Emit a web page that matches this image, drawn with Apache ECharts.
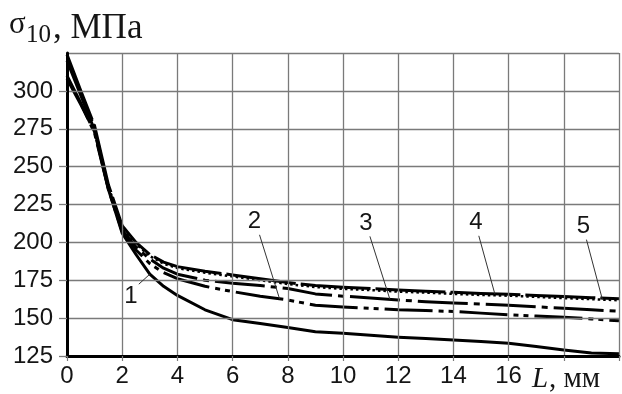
<!DOCTYPE html>
<html>
<head>
<meta charset="utf-8">
<script src="https://cdn.jsdelivr.net/npm/echarts@6/dist/echarts.min.js"></script>
<style>
  html, body { margin: 0; padding: 0; background: #fff; }
  #main { width: 622px; height: 394px; }
</style>
</head>
<body>
<div id="main"></div>
<script>
// Distance from the notch, L (mm)
const lengthMm = [0, 0.5, 1, 1.5, 2, 2.5, 3, 3.5, 4, 5, 6, 7, 8, 9, 10, 11, 12, 13, 14, 15, 16, 17, 18, 19, 20];

// Stress sigma_10 (MPa) for curves 1..5
const curve1 = [320, 297, 274, 235, 206, 192, 179, 171, 165, 155.5, 149, 146.5, 143.8, 141, 140, 138.7, 137.4, 136.5, 135.6, 134.5, 133.4, 131.2, 129, 127, 126.5];
const curve2 = [310, 292, 272, 235, 207, 195, 186, 180, 176, 171, 167.5, 164.5, 162, 158.5, 157.3, 156.5, 155.5, 155, 154.4, 153.3, 152.2, 151.4, 150.6, 149.5, 148.2];
const curve3 = [308, 291, 273, 236, 208, 197, 189, 183, 179, 175, 173, 171.5, 169.5, 166, 164.5, 163.3, 162, 160.8, 160, 159.3, 158.5, 157.5, 156.5, 155.5, 154.5];
const curve4 = [324, 300, 277, 238, 211, 200, 192, 187, 184, 181, 178.5, 176, 173.5, 171.5, 170.3, 169.5, 168.5, 167.8, 167, 166.3, 165.8, 165, 164.2, 163.5, 162.8];
const curve5 = [322, 299, 276, 237, 210, 199, 191, 186, 183, 180, 177.5, 175, 172.5, 170.5, 169.3, 168.5, 167.5, 166.8, 166, 165.3, 164.8, 164, 163.2, 162.5, 161.8];

// Curve numbers and the L at which each number's leader touches its curve
const curveNames = ['1', '2', '3', '4', '5'];
const leaderAtL = [3, 7.7, 11.7, 15.5, 19.4];

// Axis ranges and ticks
const xMin = 0, xMax = 20, xStep = 2, xLastLabel = 16;
const yMin = 125, yMax = 325, yStep = 25;

const curves = [curve1, curve2, curve3, curve4, curve5];

const dashStyles = [
  { type: 'solid', width: 3 },
  { type: [48, 6, 5, 5, 5, 6], width: 3 },    // dash-dot-dot
  { type: [50, 6, 6, 6], width: 3 },          // dash-dot
  { type: [70, 5], width: 3 },                // long dash
  { type: [2.5, 3], width: 2.5 }              // dotted
];

const chart = echarts.init(document.getElementById('main'), null, { renderer: 'canvas' });

const gridColor = '#7a7a7a';
const tickFont = 'Liberation Sans, Arial, sans-serif';
const serif = 'Liberation Serif, Times New Roman, serif';

const series = curves.map((ys, i) => ({
  type: 'line',
  name: curveNames[i],
  data: lengthMm.map((x, k) => [x, ys[k]]),
  showSymbol: false,
  symbol: 'none',
  smooth: false,
  lineStyle: { color: '#000', width: dashStyles[i].width, type: dashStyles[i].type, cap: 'butt', join: 'round' },
  z: 3
}));

chart.setOption({
  animation: false,
  backgroundColor: '#fff',
  grid: { left: 67, right: 0, top: 53, bottom: 38, containLabel: false },
  xAxis: {
    type: 'value', min: xMin, max: xMax, interval: xStep,
    axisLine: { show: true, onZero: false, lineStyle: { color: '#000', width: 3 } },
    axisTick: { show: true, length: 5, lineStyle: { color: gridColor, width: 1.2 } },
    axisLabel: {
      fontSize: 24, fontFamily: tickFont, color: '#151515', margin: 8,
      formatter: v => (v <= xLastLabel ? String(v) : '')
    },
    splitLine: { show: true, lineStyle: { color: gridColor, width: 1.3 } },
    z: 5
  },
  yAxis: {
    type: 'value', min: yMin, max: yMax, interval: yStep,
    axisLine: { show: true, lineStyle: { color: '#000', width: 3 } },
    axisTick: { show: true, length: 8, lineStyle: { color: gridColor, width: 1.3 } },
    axisLabel: { fontSize: 24, fontFamily: tickFont, color: '#151515', margin: 14, showMaxLabel: false },
    splitLine: { show: true, lineStyle: { color: gridColor, width: 1.3 } },
    z: 5
  },
  series: series
});

// Linear lookup of a curve's value at a given L
function valueAt(ys, x) {
  for (let k = 1; k < lengthMm.length; k++) {
    if (x <= lengthMm[k]) {
      const t = (x - lengthMm[k - 1]) / (lengthMm[k] - lengthMm[k - 1]);
      return ys[k - 1] + t * (ys[k] - ys[k - 1]);
    }
  }
  return ys[ys.length - 1];
}

// Number labels with thin leaders; offsets in pixels from the leader tip
const textOffset = [[-19, 22], [-25, -77], [-24, -76], [-19, -71], [-19, -73]];
const leaderStart = [[-11, 10], [-20, -64], [-20, -63], [-16, -58], [-16, -60]];

const graphics = [];
curveNames.forEach((name, i) => {
  const tip = chart.convertToPixel({ gridIndex: 0 }, [leaderAtL[i], valueAt(curves[i], leaderAtL[i])]);
  graphics.push({
    type: 'line', z: 10,
    shape: { x1: tip[0] + leaderStart[i][0], y1: tip[1] + leaderStart[i][1], x2: tip[0], y2: tip[1] },
    style: { stroke: '#333', lineWidth: 1 }
  });
  graphics.push({
    type: 'text', z: 10,
    x: tip[0] + textOffset[i][0], y: tip[1] + textOffset[i][1],
    style: { text: name, font: '24px ' + tickFont, fill: '#151515', textAlign: 'center', textVerticalAlign: 'middle' }
  });
});

// Axis titles
graphics.push(
  { type: 'text', x: 9, y: 40, style: { text: 'σ', font: '31px ' + serif, fill: '#151515', textVerticalAlign: 'bottom' } },
  { type: 'text', x: 26, y: 48, style: { text: '10', font: '25px ' + serif, fill: '#151515', textVerticalAlign: 'bottom' } },
  { type: 'text', x: 53, y: 46, style: { text: ', МПа', font: '35px ' + serif, fill: '#151515', textVerticalAlign: 'bottom' } },
  { type: 'text', x: 532, y: 394, style: { text: 'L', font: 'italic 29px ' + serif, fill: '#151515', textVerticalAlign: 'bottom' } },
  { type: 'text', x: 549, y: 394, style: { text: ', мм', font: '29px ' + serif, fill: '#151515', textVerticalAlign: 'bottom' } }
);

chart.setOption({ graphic: graphics });
</script>
</body>
</html>
